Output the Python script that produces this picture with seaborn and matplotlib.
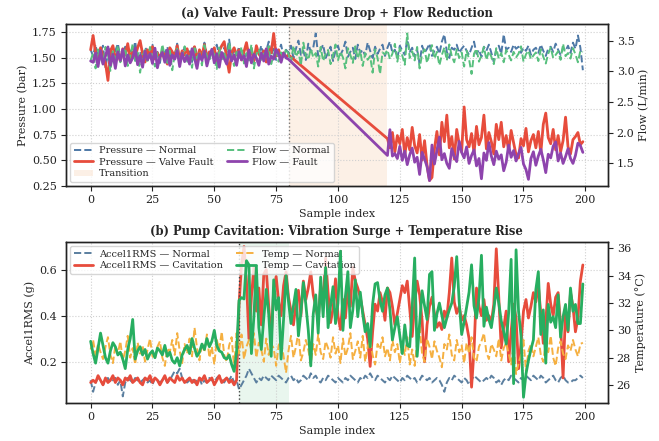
import matplotlib
matplotlib.use("Agg")
import matplotlib.pyplot as plt
import seaborn as sns

# --- (a) valve fault ---------------------------------------------------------
SAMPLES = list(range(200))
# fault traces skip the straight ramp between 80 and 120 (line just joins them)
FAULT_SAMPLES = list(range(81)) + list(range(120, 200))

pressure_normal = [
    1.58, 1.52, 1.63, 1.49, 1.56, 1.62, 1.40, 1.55, 1.60, 1.47, 1.57, 1.64, 1.51, 1.54, 1.61, 1.46, 1.58, 1.53, 1.66, 1.50,
    1.55, 1.48, 1.60, 1.57, 1.52, 1.63, 1.49, 1.56, 1.45, 1.59, 1.54, 1.61, 1.50, 1.57, 1.53, 1.64, 1.48, 1.55, 1.60, 1.51,
    1.58, 1.46, 1.62, 1.53, 1.57, 1.50, 1.65, 1.54, 1.49, 1.59, 1.56, 1.63, 1.52, 1.47, 1.60, 1.55, 1.68, 1.51, 1.58, 1.53,
    1.61, 1.49, 1.56, 1.64, 1.52, 1.58, 1.45, 1.60, 1.54, 1.62, 1.50, 1.57, 1.66, 1.53, 1.59, 1.48, 1.56, 1.63, 1.51, 1.58,
    1.55, 1.62, 1.50, 1.59, 1.67, 1.53, 1.57, 1.48, 1.64, 1.56, 1.60, 1.74, 1.52, 1.58, 1.63, 1.50, 1.55, 1.61, 1.47, 1.57,
    1.62, 1.53, 1.58, 1.66, 1.51, 1.56, 1.60, 1.49, 1.63, 1.55, 1.58, 1.52, 1.65, 1.57, 1.50, 1.61, 1.54, 1.59, 1.63, 1.52,
    1.60, 1.66, 1.55, 1.58, 1.50, 1.62, 1.57, 1.53, 1.68, 1.56, 1.60, 1.51, 1.58, 1.45, 1.62, 1.55, 1.59, 1.64, 1.52, 1.57,
    1.61, 1.54, 1.66, 1.73, 1.56, 1.50, 1.60, 1.58, 1.63, 1.55, 1.59, 1.62, 1.57, 1.53, 1.60, 1.66, 1.54, 1.58, 1.51, 1.61,
    1.57, 1.63, 1.55, 1.46, 1.59, 1.62, 1.54, 1.73, 1.58, 1.60, 1.56, 1.63, 1.59, 1.61, 1.55, 1.60, 1.57, 1.62, 1.53, 1.58,
    1.60, 1.55, 1.63, 1.57, 1.52, 1.59, 1.61, 1.56, 1.64, 1.58, 1.53, 1.60, 1.57, 1.62, 1.55, 1.65, 1.59, 1.72, 1.60, 1.38,
]
flow_normal = [
    3.18, 3.30, 3.05, 3.36, 3.22, 3.12, 3.40, 3.27, 3.01, 3.33, 3.20, 3.42, 3.15, 3.28, 3.38, 3.09, 3.25, 3.45, 3.17, 3.31,
    2.98, 3.26, 3.35, 3.14, 3.40, 3.22, 3.08, 3.30, 3.19, 3.44, 3.24, 3.11, 3.34, 3.02, 3.28, 3.37, 3.16, 3.23, 3.41, 3.13,
    3.29, 3.06, 3.38, 3.21, 3.32, 3.10, 3.43, 3.25, 3.17, 3.36, 3.27, 3.04, 3.39, 3.20, 3.31, 3.14, 3.47, 3.26, 3.09, 3.35,
    3.22, 3.40, 3.13, 3.30, 3.18, 3.44, 3.05, 3.28, 3.36, 3.19, 3.33, 3.24, 3.41, 3.12, 3.27, 3.38, 3.16, 3.31, 3.21, 3.37,
    3.28, 3.15, 3.42, 3.24, 3.33, 3.10, 3.47, 3.26, 3.19, 3.37, 3.23, 3.30, 3.08, 3.40, 3.17, 3.29, 3.35, 3.12, 3.26, 3.44,
    3.18, 3.32, 3.23, 3.05, 3.38, 3.27, 3.14, 3.41, 3.21, 3.34, 3.09, 3.30, 3.19, 3.25, 2.98, 3.36, 3.22, 2.96, 3.31, 3.28,
    3.35, 3.20, 3.29, 3.45, 3.16, 3.38, 3.26, 3.11, 3.62, 3.22, 3.33, 3.18, 3.40, 3.05, 3.28, 3.36, 3.14, 3.30, 3.43, 3.21,
    3.32, 3.10, 3.27, 3.39, 3.18, 3.44, 3.25, 3.15, 3.36, 3.22, 3.31, 3.08, 3.34, 3.20, 2.96, 3.29, 3.37, 3.16, 3.26, 3.40,
    3.19, 3.33, 3.24, 3.12, 3.38, 3.21, 3.30, 3.15, 3.35, 3.27, 3.18, 3.32, 3.23, 3.29, 3.41, 3.16, 3.28, 3.34, 3.20, 3.26,
    3.31, 3.17, 3.36, 3.24, 3.13, 3.29, 3.39, 3.22, 3.27, 3.33, 3.19, 3.45, 3.25, 3.30, 3.21, 3.38, 3.28, 3.15, 3.34, 3.32,
]
pressure_fault = [
    1.58, 1.72, 1.55, 1.48, 1.60, 1.52, 1.45, 1.28, 1.57, 1.62, 1.50, 1.55, 1.47, 1.59, 1.53, 1.64, 1.49, 1.56, 1.51, 1.60,
    1.67, 1.54, 1.46, 1.58, 1.52, 1.61, 1.49, 1.55, 1.50, 1.57, 1.53, 1.44, 1.60, 1.56, 1.51, 1.62, 1.48, 1.57, 1.53, 1.59,
    1.50, 1.55, 1.61, 1.47, 1.58, 1.52, 1.63, 1.49, 1.56, 1.54, 1.60, 1.46, 1.57, 1.62, 1.66, 1.50, 1.36, 1.55, 1.60, 1.53,
    1.58, 1.48, 1.56, 1.65, 1.51, 1.59, 1.47, 1.62, 1.54, 1.50, 1.57, 1.46, 1.60, 1.55, 1.74, 1.52, 1.58, 1.49, 1.55, 1.51,
    1.53,
    0.71, 0.62, 0.77, 0.58, 0.74, 0.66, 0.80, 0.55, 0.72, 0.60, 0.82, 0.64, 0.57, 0.75, 0.50, 0.69, 0.45, 0.30, 0.33, 0.61,
    0.78, 0.55, 0.87, 0.68, 0.94, 0.62, 0.73, 0.51, 0.80, 0.66, 0.58, 1.02, 0.70, 0.63, 0.76, 0.57, 0.83, 0.65, 0.72, 0.94,
    0.61, 0.77, 0.68, 0.56, 0.85, 0.70, 0.87, 0.63, 0.74, 0.59, 0.79, 0.67, 0.55, 0.52, 0.71, 0.64, 0.81, 0.58, 0.69, 0.75,
    0.62, 0.78, 0.57, 0.85, 0.96, 0.72, 0.66, 0.80, 0.60, 0.74, 0.58, 0.69, 0.92, 0.63, 0.56, 0.70, 0.73, 0.77, 0.65, 0.68,
]
flow_fault = [
    3.17, 3.15, 3.30, 3.08, 3.34, 3.12, 3.25, 3.40, 3.10, 3.28, 3.05, 3.32, 3.18, 3.36, 3.09, 3.27, 3.14, 3.22, 3.38, 3.11,
    3.26, 3.07, 3.33, 3.19, 3.29, 3.13, 3.38, 3.06, 3.24, 3.31, 3.15, 3.35, 3.10, 3.27, 3.20, 3.34, 3.08, 3.30, 3.16, 3.26,
    3.12, 3.37, 3.22, 3.05, 3.28, 3.18, 3.33, 3.09, 3.25, 3.36, 3.14, 3.29, 3.07, 3.31, 3.21, 3.12, 3.34, 3.17, 3.27, 3.10,
    3.32, 3.19, 3.26, 3.08, 3.35, 3.14, 3.28, 3.22, 3.10, 3.30, 3.17, 3.37, 3.12, 3.25, 3.20, 3.36, 3.29, 3.15, 3.30, 3.22,
    3.20,
    1.63, 2.05, 1.62, 1.66, 1.58, 1.78, 1.55, 1.70, 1.48, 1.64, 1.75, 1.52, 1.60, 1.32, 1.68, 1.57, 1.45, 1.22, 1.80, 1.49,
    1.71, 1.93, 1.56, 1.66, 1.50, 1.42, 1.74, 1.61, 1.53, 1.86, 1.68, 1.59, 1.77, 1.50, 1.63, 1.72, 1.46, 1.58, 1.25, 1.67,
    1.55, 1.84, 1.62, 1.48, 1.70, 1.57, 1.64, 1.38, 1.52, 1.80, 1.60, 1.71, 1.54, 1.66, 1.76, 1.49, 1.40, 1.24, 1.58, 1.69,
    1.47, 1.62, 1.73, 1.56, 1.35, 1.65, 1.59, 1.78, 1.85, 1.54, 1.67, 1.50, 1.61, 1.74, 1.58, 1.50, 1.63, 1.83, 1.79, 1.68,
]

# --- (b) pump cavitation -----------------------------------------------------
accel_normal = [
    0.12, 0.07, 0.11, 0.13, 0.12, 0.10, 0.12, 0.13, 0.11, 0.12, 0.13, 0.10, 0.12, 0.05, 0.11, 0.13, 0.12, 0.11, 0.13, 0.12,
    0.11, 0.12, 0.13, 0.11, 0.12, 0.10, 0.13, 0.12, 0.11, 0.12, 0.13, 0.11, 0.12, 0.14, 0.16, 0.15, 0.17, 0.13, 0.12, 0.11,
    0.12, 0.13, 0.11, 0.12, 0.13, 0.10, 0.12, 0.11, 0.13, 0.12, 0.11, 0.13, 0.14, 0.12, 0.11, 0.13, 0.12, 0.14, 0.11, 0.12,
    0.08, 0.10, 0.12, 0.14, 0.17, 0.15, 0.13, 0.11, 0.13, 0.12, 0.14, 0.13, 0.12, 0.14, 0.13, 0.12, 0.14, 0.13, 0.12, 0.11,
    0.13, 0.14, 0.12, 0.13, 0.11, 0.12, 0.14, 0.13, 0.12, 0.15, 0.13, 0.14, 0.12, 0.11, 0.13, 0.12, 0.14, 0.13, 0.12, 0.11,
    0.13, 0.12, 0.11, 0.13, 0.12, 0.14, 0.13, 0.12, 0.11, 0.13, 0.12, 0.14, 0.13, 0.15, 0.13, 0.12, 0.14, 0.13, 0.12, 0.11,
    0.13, 0.12, 0.14, 0.13, 0.12, 0.11, 0.13, 0.12, 0.14, 0.13, 0.12, 0.13, 0.11, 0.12, 0.14, 0.13, 0.12, 0.13, 0.11, 0.12,
    0.13, 0.12, 0.10, 0.07, 0.11, 0.13, 0.12, 0.14, 0.13, 0.12, 0.11, 0.13, 0.12, 0.10, 0.12, 0.14, 0.13, 0.12, 0.11, 0.12,
    0.13, 0.12, 0.14, 0.13, 0.11, 0.12, 0.10, 0.12, 0.13, 0.12, 0.14, 0.13, 0.12, 0.11, 0.13, 0.12, 0.14, 0.13, 0.12, 0.14,
    0.13, 0.12, 0.14, 0.13, 0.11, 0.12, 0.13, 0.14, 0.12, 0.11, 0.13, 0.14, 0.12, 0.11, 0.11, 0.12, 0.12, 0.13, 0.14, 0.13,
]
accel_cavitation = [
    0.11, 0.12, 0.11, 0.14, 0.12, 0.10, 0.13, 0.11, 0.12, 0.14, 0.11, 0.13, 0.12, 0.10, 0.13, 0.12, 0.14, 0.11, 0.12, 0.13,
    0.11, 0.10, 0.13, 0.12, 0.14, 0.11, 0.13, 0.12, 0.10, 0.12, 0.14, 0.11, 0.13, 0.12, 0.11, 0.14, 0.12, 0.13, 0.11, 0.12,
    0.13, 0.11, 0.12, 0.10, 0.13, 0.12, 0.14, 0.11, 0.12, 0.13, 0.10, 0.12, 0.14, 0.11, 0.12, 0.13, 0.11, 0.12, 0.10, 0.12,
    0.45, 0.62, 0.70, 0.55, 0.30, 0.48, 0.61, 0.42, 0.52, 0.36, 0.58, 0.60, 0.44, 0.30, 0.51, 0.57, 0.46, 0.40, 0.53, 0.59,
    0.48, 0.42, 0.36, 0.45, 0.51, 0.40, 0.55, 0.47, 0.52, 0.59, 0.49, 0.44, 0.38, 0.53, 0.46, 0.65, 0.50, 0.37, 0.43, 0.56,
    0.40, 0.34, 0.47, 0.39, 0.52, 0.44, 0.61, 0.55, 0.52, 0.48, 0.42, 0.36, 0.30, 0.18, 0.33, 0.45, 0.42, 0.50, 0.46, 0.38,
    0.52, 0.50, 0.44, 0.36, 0.41, 0.47, 0.53, 0.50, 0.55, 0.43, 0.31, 0.45, 0.55, 0.49, 0.38, 0.20, 0.36, 0.44, 0.48, 0.41,
    0.35, 0.37, 0.34, 0.42, 0.39, 0.50, 0.65, 0.46, 0.41, 0.44, 0.38, 0.40, 0.36, 0.30, 0.09, 0.25, 0.52, 0.44, 0.40, 0.47,
    0.38, 0.40, 0.37, 0.45, 0.69, 0.48, 0.26, 0.35, 0.42, 0.20, 0.33, 0.45, 0.39, 0.17, 0.28, 0.42, 0.47, 0.39, 0.44, 0.50,
    0.46, 0.53, 0.41, 0.28, 0.37, 0.54, 0.45, 0.40, 0.48, 0.50, 0.36, 0.13, 0.42, 0.33, 0.50, 0.44, 0.33, 0.39, 0.55, 0.62,
]
temp_normal = [
    28.6, 29.3, 28.1, 29.0, 28.4, 27.9, 28.8, 29.5, 28.2, 27.6, 28.9, 28.3, 29.2, 27.8, 28.5, 29.6, 28.0, 28.7, 27.5, 29.1,
    28.3, 28.9, 27.7, 28.6, 29.4, 28.1, 27.9, 28.8, 29.2, 28.0, 27.4, 28.7, 28.4, 29.3, 28.2, 29.8, 28.5, 27.6, 29.0, 28.3,
    29.4, 28.1, 30.2, 28.7, 27.8, 29.1, 28.4, 29.7, 28.0, 28.8, 27.5, 29.3, 28.6, 29.9, 28.2, 27.7, 28.9, 29.5, 27.3, 29.8,
    28.3, 29.7, 27.9, 28.8, 29.3, 28.5, 29.8, 28.0, 29.1, 28.6, 27.7, 29.4, 28.2, 29.0, 28.7, 27.4, 28.9, 29.2, 28.1, 26.9,
    28.5, 29.6, 28.0, 28.8, 29.9, 27.8, 28.4, 29.3, 28.6, 27.5, 29.0, 28.2, 29.7, 28.4, 27.9, 29.2, 28.7, 28.0, 29.5, 28.3,
    28.9, 27.6, 29.4, 28.1, 28.7, 29.8, 27.9, 28.5, 29.2, 28.0, 29.6, 27.7, 28.8, 29.3, 28.2, 27.5, 29.0, 28.6, 29.5, 28.1,
    28.7, 27.8, 29.3, 28.4, 29.0, 27.6, 28.9, 28.2, 29.5, 27.5, 28.6, 27.4, 29.1, 30.3, 28.3, 27.7, 29.4, 28.8, 27.9, 29.2,
    28.5, 28.0, 27.3, 29.0, 28.6, 29.7, 28.2, 27.8, 29.3, 28.4, 28.9, 27.6, 29.1, 28.3, 29.5, 28.0, 27.7, 28.8, 29.2, 29.8,
    28.4, 27.9, 29.0, 28.6, 28.1, 29.4, 27.8, 28.7, 29.1, 28.3, 27.5, 28.9, 26.8, 27.6, 28.2, 29.3, 27.0, 28.5, 29.0, 28.1,
    28.8, 29.5, 28.2, 27.7, 29.1, 28.4, 29.6, 28.0, 27.4, 28.7, 29.2, 28.3, 27.9, 28.9, 28.5, 29.3, 28.6, 28.1, 29.0, 29.1,
]
temp_cavitation = [
    29.2, 28.3, 27.6, 28.7, 29.8, 28.9, 28.0, 27.6, 28.5, 29.1, 28.8, 28.2, 28.4, 27.9, 27.2, 28.6, 29.4, 30.8, 27.9, 28.5,
    28.8, 28.2, 28.6, 27.9, 28.3, 28.5, 28.0, 28.7, 28.5, 28.2, 28.9, 28.1, 28.4, 27.8, 27.6, 28.0, 27.4, 28.2, 28.6, 28.9,
    28.3, 29.4, 28.7, 28.1, 28.4, 29.0, 28.6, 29.4, 28.8, 29.2, 30.0, 28.9, 28.5, 28.4, 28.0, 27.9, 28.2, 27.5, 27.0, 28.4,
    32.2, 32.4, 32.3, 35.1, 34.8, 28.3, 31.0, 34.7, 30.2, 28.6, 30.9, 33.0, 31.2, 28.1, 33.7, 31.5, 32.4, 27.9, 30.8, 34.0,
    32.1, 30.5, 31.8, 33.0, 29.6, 31.3, 33.5, 31.9, 30.0, 27.4, 31.2, 32.6, 29.8, 33.9, 31.0, 34.6, 30.2, 31.8, 33.2, 30.5,
    32.0, 35.8, 30.0, 32.5, 34.3, 30.2, 31.5, 33.7, 31.0, 32.8, 31.2, 29.9, 30.5, 28.8, 31.9, 33.4, 33.5, 32.2, 31.4, 32.6,
    33.1, 31.5, 29.3, 30.2, 31.0, 29.6, 28.3, 30.4, 28.9, 28.8, 31.7, 35.3, 28.1, 30.5, 32.9, 31.8, 30.8, 34.1, 34.3, 30.0,
    31.2, 32.0, 31.1, 30.2, 30.9, 31.5, 32.0, 33.2, 35.4, 32.1, 29.7, 30.6, 31.7, 32.8, 34.8, 31.8, 30.9, 32.4, 35.5, 30.3,
    31.7, 30.8, 30.2, 31.5, 33.1, 32.0, 30.7, 29.9, 29.0, 31.3, 35.2, 26.1, 35.9, 31.4, 29.6, 25.1, 26.8, 27.8, 28.6, 29.3,
    33.0, 34.3, 29.7, 31.5, 27.6, 31.9, 30.6, 31.0, 30.2, 32.6, 29.5, 31.0, 31.9, 30.0, 33.1, 31.4, 31.9, 30.5, 30.5, 33.4,
]

sns.set_theme(style="ticks")
plt.rcParams.update({
    "font.family": ["DejaVu Serif"],
    "font.size": 8,
    "axes.edgecolor": "#222222",
    "axes.linewidth": 1.0,
    "axes.labelsize": 8,
    "axes.labelpad": 3,
    "xtick.labelsize": 8,
    "ytick.labelsize": 8,
    "xtick.major.size": 3.5,
    "ytick.major.size": 3.5,
    "xtick.major.width": 0.8,
    "ytick.major.width": 0.8,
    "xtick.major.pad": 3,
    "ytick.major.pad": 3,
    "xtick.color": "#222222",
    "ytick.color": "#222222",
    "grid.linestyle": ":",
    "grid.color": "#d0d0d0",
    "grid.linewidth": 0.8,
})


def draw(ax, x, y, color, label, dashed=False):
    sns.lineplot(x=x, y=y, ax=ax, color=color, label=label, legend=False,
                 lw=1.4 if dashed else 2.0, linestyle="--" if dashed else "-")


def combined_legend(ax, ax2, loc):
    h1, l1 = ax.get_legend_handles_labels()
    h2, l2 = ax2.get_legend_handles_labels()
    leg = ax.legend(h1 + h2, l1 + l2, loc=loc, ncol=2, fontsize=7,
                    frameon=True, framealpha=0.8, edgecolor="#cccccc",
                    borderpad=0.4, labelspacing=0.25, columnspacing=1.4,
                    handlelength=2.0, handletextpad=0.6, borderaxespad=0.4)
    leg.set_zorder(5)


fig = plt.figure(figsize=(6.59, 4.41), dpi=100)

# panel (a)
ax = fig.add_axes([0.100, 0.578, 0.822, 0.367])
ax2 = ax.twinx()
draw(ax, SAMPLES, pressure_normal, "#4e79a7", "Pressure — Normal", dashed=True)
draw(ax, FAULT_SAMPLES, pressure_fault, "#e74c3c", "Pressure — Valve Fault")
ax.axvspan(80, 120, color="#fbe3cf", alpha=0.5, lw=0, label="Transition", zorder=0)
ax.axvline(80, color="#777777", ls=":", lw=1.0)
draw(ax2, SAMPLES, flow_normal, "#58c07e", "Flow — Normal", dashed=True)
draw(ax2, FAULT_SAMPLES, flow_fault, "#8e44ad", "Flow — Fault")
ax.set_xlim(-10, 209)
ax.set_ylim(0.245, 1.83)
ax.set_yticks([0.25, 0.50, 0.75, 1.00, 1.25, 1.50, 1.75])
ax2.set_ylim(1.13, 3.77)
ax2.set_yticks([1.5, 2.0, 2.5, 3.0, 3.5])
ax.set_xticks(range(0, 201, 25))
ax.set_xlabel("Sample index")
ax.set_ylabel("Pressure (bar)")
ax2.set_ylabel("Flow (L/min)")
ax.grid(True)
ax.set_title("(a) Valve Fault: Pressure Drop + Flow Reduction",
             fontsize=8.3, fontweight="bold", pad=5)
combined_legend(ax, ax2, "lower left")

# panel (b)
bx = fig.add_axes([0.100, 0.0855, 0.822, 0.366])
bx2 = bx.twinx()
draw(bx, SAMPLES, accel_normal, "#5b7f9f", "Accel1RMS — Normal", dashed=True)
draw(bx, SAMPLES, accel_cavitation, "#e74c3c", "Accel1RMS — Cavitation")
bx.axvspan(60, 80, color="#d5efdf", alpha=0.5, lw=0, zorder=0)
bx.axvline(60, color="#444444", ls=":", lw=1.0)
draw(bx2, SAMPLES, temp_normal, "#f5b041", "Temp — Normal", dashed=True)
draw(bx2, SAMPLES, temp_cavitation, "#27ae60", "Temp — Cavitation")
bx.set_xlim(-10, 209)
bx.set_ylim(0.02, 0.72)
bx.set_yticks([0.2, 0.4, 0.6])
bx2.set_ylim(24.66, 36.48)
bx2.set_yticks([26, 28, 30, 32, 34, 36])
bx.set_xticks(range(0, 201, 25))
bx.set_xlabel("Sample index")
bx.set_ylabel("Accel1RMS (g)")
bx2.set_ylabel("Temperature (°C)")
bx.grid(True)
bx.set_title("(b) Pump Cavitation: Vibration Surge + Temperature Rise",
             fontsize=8.3, fontweight="bold", pad=5)
combined_legend(bx, bx2, "upper left")

fig.savefig("out.png", dpi=100)
